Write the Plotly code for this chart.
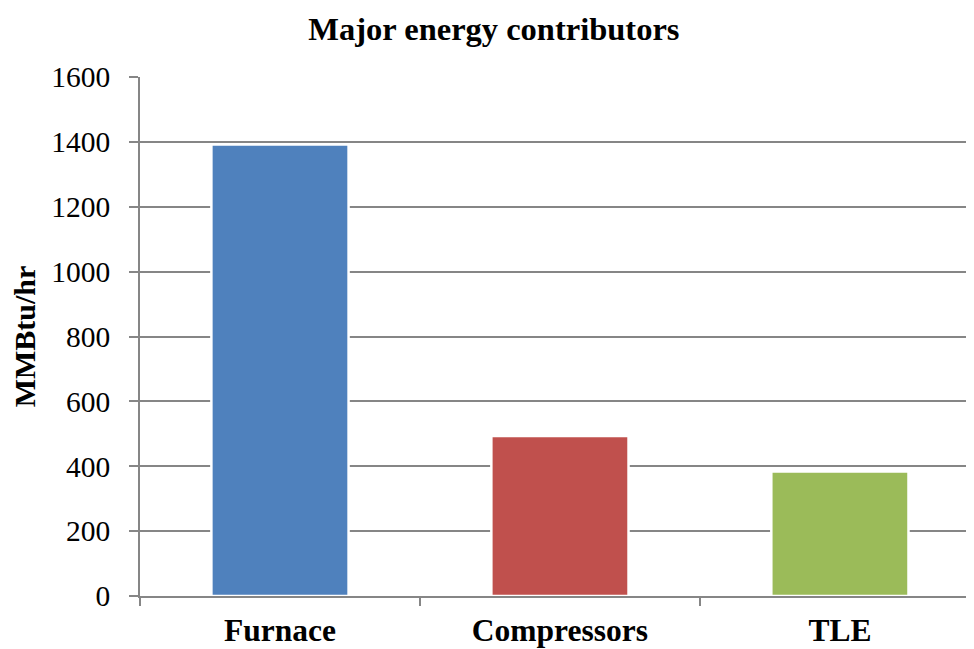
import plotly.graph_objects as go

categories = ["Furnace", "Compressors", "TLE"]
values = [1392, 493, 384]
colors = ["#4F81BD", "#C0504D", "#9BBB59"]
y_ticks = [0, 200, 400, 600, 800, 1000, 1200, 1400, 1600]

fig = go.Figure()
fig.add_trace(go.Bar(
    x=categories, y=values,
    marker=dict(color=colors, line=dict(color="white", width=2.5)),
    width=0.49,
))

font_family = "Liberation Serif, Times New Roman, serif"
fig.update_layout(
    width=966, height=641,
    margin=dict(l=132, r=0, t=69, b=53, autoexpand=False),
    paper_bgcolor="white", plot_bgcolor="white",
    showlegend=False,
    font=dict(family=font_family, color="black", size=30),
    title=dict(text="<b>Major energy contributors</b>", x=0.503, xanchor="center",
               y=0.968, yanchor="middle", font=dict(size=32.5, family=font_family)),
)
fig.update_yaxes(
    range=[0, 1600], tickvals=y_ticks, ticks="outside", ticklen=9, tickcolor="#868686",
    tickwidth=1.5, automargin=False,
    showline=True, linecolor="#868686", linewidth=1.5,
    showgrid=True, gridcolor="#868686", gridwidth=1.5,
    zeroline=False, ticklabelstandoff=13,
    tickfont=dict(size=29.5),
    title=dict(text="<b>MMBtu/hr</b>", standoff=20, font=dict(size=30)),
)
fig.update_xaxes(
    range=[-0.5, 2.479], tickson="boundaries", ticks="outside", ticklen=8,
    tickcolor="#868686", tickwidth=1.5, automargin=False,
    showline=True, linecolor="#868686", linewidth=1.5,
    tickfont=dict(size=31.5), ticklabelstandoff=5,
    tickvals=categories, ticktext=["<b>%s</b>" % c for c in categories],
)
fig.write_html("out.html")
